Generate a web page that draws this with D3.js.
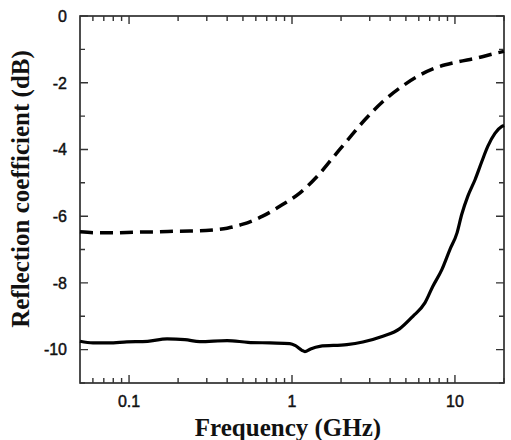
<!DOCTYPE html>
<html>
<head>
<meta charset="utf-8">
<script src="https://cdn.jsdelivr.net/npm/d3@7"></script>
<style>
  body { margin: 0; background: #fff; }
  .tick-label { font-family: "Liberation Sans", Arial, sans-serif; font-size: 16px; fill: #111; stroke: #111; stroke-width: 0.45px; }
  .axis-title { font-family: "Liberation Serif", "Times New Roman", serif; font-weight: bold; font-size: 25px; fill: #111; }
</style>
</head>
<body>
<div id="chart"></div>
<script>
'use strict';

// dashed curve
var dashedFreq = [0.05, 0.065, 0.08, 0.11, 0.15, 0.2, 0.27, 0.33, 0.4, 0.5, 0.66, 0.87, 1.12, 1.42, 1.78, 2.2, 2.8, 3.6, 4.7, 6.1, 7.85, 10.3, 13.6, 18, 20];
var dashedDb   = [-6.47, -6.5, -6.5, -6.48, -6.47, -6.45, -6.44, -6.41, -6.36, -6.24, -6.0, -5.66, -5.3, -4.82, -4.25, -3.71, -3.11, -2.57, -2.12, -1.77, -1.53, -1.38, -1.26, -1.11, -1.06];

// solid curve
var solidFreq = [0.05, 0.06, 0.075, 0.097, 0.13, 0.171, 0.22, 0.272, 0.4, 0.537, 0.733, 0.97, 1.05, 1.15, 1.2, 1.3, 1.48, 2.17, 2.72, 3.61, 4.59, 5.52, 6.54, 7.32, 8.31, 9.31, 10.3, 11.0, 12.0, 13.3, 14.6, 15.9, 17.6, 19.4, 20];
var solidDb   = [-9.75, -9.8, -9.8, -9.77, -9.75, -9.68, -9.7, -9.76, -9.73, -9.78, -9.8, -9.82, -9.88, -10.02, -10.06, -9.98, -9.9, -9.85, -9.77, -9.6, -9.37, -9.0, -8.6, -8.1, -7.6, -7.0, -6.5, -5.95, -5.4, -4.9, -4.37, -3.91, -3.52, -3.31, -3.28];

var xMajorTicks = [0.1, 1, 10];
var xMajorLabels = ['0.1', '1', '10'];
var xMinorTicks = [0.06, 0.07, 0.08, 0.09, 0.2, 0.3, 0.4, 0.5, 0.6, 0.7, 0.8, 0.9, 2, 3, 4, 5, 6, 7, 8, 9, 20];
var yMajorTicks = [0, -2, -4, -6, -8, -10];
var yMinorTicks = [-1, -3, -5, -7, -9, -11];

var myApp = {};

myApp.width = 511;
myApp.height = 440;
myApp.plot = {left: 80, right: 504, top: 16, bottom: 383};
myApp.major = 8;
myApp.minor = 5;

myApp.run = function()
{
    var p = myApp.plot;
    var svg = d3.select('#chart').append('svg')
        .attr('width', myApp.width)
        .attr('height', myApp.height);

    var x = d3.scaleLog().domain([0.05, 20]).range([p.left, p.right]);
    var y = d3.scaleLinear().domain([-11, 0]).range([p.bottom, p.top]);

    // frame
    svg.append('rect')
        .attr('x', p.left)
        .attr('y', p.top)
        .attr('width', p.right - p.left)
        .attr('height', p.bottom - p.top)
        .attr('fill', 'none')
        .attr('stroke', '#222')
        .attr('stroke-width', 1.6);

    // ticks on all four sides, pointing inward
    var tickData = [];
    xMajorTicks.forEach(function(v){ tickData.push({axis: 'x', v: v, len: myApp.major}); });
    xMinorTicks.forEach(function(v){ tickData.push({axis: 'x', v: v, len: myApp.minor}); });
    yMajorTicks.forEach(function(v){ tickData.push({axis: 'y', v: v, len: myApp.major}); });
    yMinorTicks.forEach(function(v){ tickData.push({axis: 'y', v: v, len: myApp.minor}); });

    var tickPath = function(d){
        if (d.axis === 'x') {
            var px = x(d.v);
            return 'M' + px + ',' + p.bottom + 'V' + (p.bottom - d.len) +
                   'M' + px + ',' + p.top + 'V' + (p.top + d.len);
        }
        var py = y(d.v);
        return 'M' + p.left + ',' + py + 'H' + (p.left + d.len) +
               'M' + p.right + ',' + py + 'H' + (p.right - d.len);
    };

    svg.append('g')
        .selectAll('path')
        .data(tickData)
        .enter()
        .append('path')
        .attr('d', tickPath)
        .attr('fill', 'none')
        .attr('stroke', '#333')
        .attr('stroke-width', 1.4);

    // tick labels
    svg.append('g')
        .selectAll('text')
        .data(xMajorTicks)
        .enter()
        .append('text')
        .attr('class', 'tick-label')
        .attr('x', function(d){ return x(d); })
        .attr('y', 407)
        .attr('text-anchor', 'middle')
        .text(function(d, i){ return xMajorLabels[i]; });

    svg.append('g')
        .selectAll('text')
        .data(yMajorTicks)
        .enter()
        .append('text')
        .attr('class', 'tick-label')
        .attr('x', 67)
        .attr('y', function(d){ return y(d) + 5.8; })
        .attr('text-anchor', 'end')
        .text(function(d){ return d; });

    // titles
    svg.append('text')
        .attr('class', 'axis-title')
        .attr('x', 288)
        .attr('y', 436)
        .attr('text-anchor', 'middle')
        .text('Frequency (GHz)');

    svg.append('text')
        .attr('class', 'axis-title')
        .attr('transform', 'translate(29,189) rotate(-90)')
        .attr('text-anchor', 'middle')
        .text('Reflection coefficient (dB)');

    var line = d3.line()
        .x(function(d){ return x(d[0]); })
        .y(function(d){ return y(d[1]); })
        .curve(d3.curveMonotoneX);

    var dashed = dashedFreq.map(function(f, i){ return [f, dashedDb[i]]; });
    var solid = solidFreq.map(function(f, i){ return [f, solidDb[i]]; });

    svg.append('path')
        .datum(dashed)
        .attr('d', line)
        .attr('fill', 'none')
        .attr('stroke', '#000')
        .attr('stroke-width', 3.5)
        .attr('stroke-dasharray', '13,7');

    svg.append('path')
        .datum(solid)
        .attr('d', line)
        .attr('fill', 'none')
        .attr('stroke', '#000')
        .attr('stroke-width', 3.2)
        .attr('stroke-linejoin', 'round');
}

myApp.run();
</script>
</body>
</html>
